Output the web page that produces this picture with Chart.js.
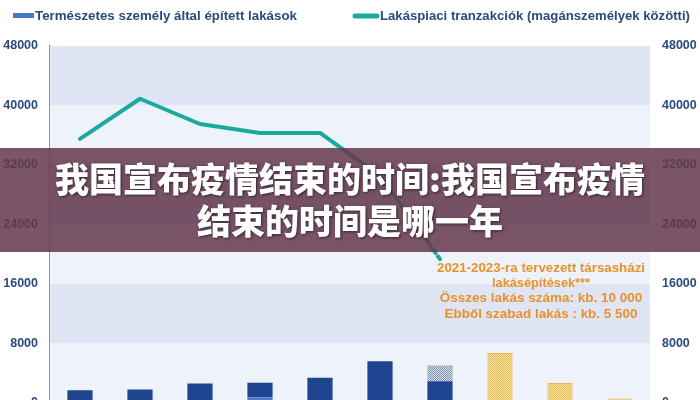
<!DOCTYPE html>
<html>
<head>
<meta charset="utf-8">
<script src="https://cdn.jsdelivr.net/npm/chart.js@4.4.1/dist/chart.umd.min.js"></script>
<style>
    html, body { margin: 0; padding: 0; background: #fff; overflow: hidden; }
    canvas { display: block; }
</style>
</head>
<body>
<!-- a bit taller than the window: the zero line sits just below the visible edge -->
<canvas id="lakasChart" width="700" height="422"></canvas>
<script>
// Years (category axis is hidden in the picture, bottom is cropped)
const years = ['2014', '2015', '2016', '2017', '2018', '2019', '2020', '2021', '2022', '2023'];

// Bars, stacked
const builtLight = [250, 250, 250, 700, 250, 300, 300, null, null, null];
const builtDark = [1400, 1500, 2300, 1950, 3070, 5250, 2570, null, null, null];
const builtHatched = [null, null, null, null, null, null, 2100, null, null, null];
const plannedCondo = [null, null, null, null, null, null, null, 6680, 2640, 540];

// Line: market transactions between private persons
const transactions = [35500, 40900, 37500, 36300, 36300, 30500, 19300, null, null, null];

const yTicks = [0, 8000, 16000, 24000, 32000, 40000, 48000];

const legendNames = [
    'Természetes személy által épített lakások',
    'Lakáspiaci tranzakciók (magánszemélyek közötti)'
];
const noteLines = [
    '2021-2023-ra tervezett társasházi',
    'lakásépítések***',
    'Összes lakás száma: kb. 10 000',
    'Ebből szabad lakás : kb. 5 500'
];
const bannerLines = [
    '我国宣布疫情结束的时间:我国宣布疫情',
    '结束的时间是哪一年'
];

const NAVY = '#1f4591';
const TEAL = '#1ba99b';
const LABEL = '#2d4a7c';

function dotPattern(bg, fg) {
    const c = document.createElement('canvas');
    c.width = 2; c.height = 2;
    const g = c.getContext('2d');
    g.fillStyle = bg;
    g.fillRect(0, 0, 2, 2);
    g.fillStyle = fg;
    g.fillRect(0, 0, 1, 1);
    g.fillRect(1, 1, 1, 1);
    return g.createPattern(c, 'repeat');
}

// alternating horizontal bands inside the plot area
const bandsPlugin = {
    id: 'bands',
    beforeDatasetsDraw(chart) {
        const { ctx, chartArea } = chart;
        const y = chart.scales.y;
        ctx.save();
        for (let i = 0; i < yTicks.length - 1; i++) {
            const top = y.getPixelForValue(yTicks[i + 1]);
            const bot = y.getPixelForValue(yTicks[i]);
            ctx.fillStyle = i % 2 === 0 ? '#eef2fb' : '#dfe5f4';
            ctx.fillRect(chartArea.left, top, chartArea.right - chartArea.left, bot - top);
        }
        ctx.restore();
    }
};

// legend + note + overlay banner
const extrasPlugin = {
    id: 'extras',
    afterDatasetsDraw(chart) {
        const { ctx } = chart;
        ctx.save();
        // legend
        ctx.font = 'bold 13.5px "Liberation Sans", Arial, sans-serif';
        ctx.textBaseline = 'middle';
        ctx.fillStyle = '#4a78c8';
        ctx.fillRect(13, 13, 21, 5);
        ctx.fillStyle = LABEL;
        ctx.fillText(legendNames[0], 35, 16, 262);
        ctx.strokeStyle = TEAL;
        ctx.lineWidth = 5;
        ctx.lineCap = 'round';
        ctx.beginPath();
        ctx.moveTo(355, 16);
        ctx.lineTo(377, 16);
        ctx.stroke();
        ctx.fillText(legendNames[1], 380, 16, 310);

        // note above the planned bars
        ctx.fillStyle = '#e8922a';
        ctx.font = 'bold 13.5px "Liberation Sans", Arial, sans-serif';
        ctx.textAlign = 'center';
        const widths = [208, 98, 203, 193];
        noteLines.forEach((t, i) => ctx.fillText(t, 541, 268 + i * 15.3, widths[i]));
        ctx.restore();
    },
    afterDraw(chart) {
        const { ctx, width } = chart;
        ctx.save();
        ctx.fillStyle = 'rgba(100, 55, 75, 0.85)';
        ctx.fillRect(0, 148, width, 104);
        ctx.font = '900 34px "Noto Sans CJK SC", sans-serif';
        ctx.textAlign = 'center';
        ctx.textBaseline = 'middle';
        ctx.shadowColor = 'rgba(0,0,0,0.55)';
        ctx.shadowBlur = 3;
        ctx.shadowOffsetX = 1;
        ctx.shadowOffsetY = 1;
        ctx.fillStyle = '#ffffff';
        ctx.fillText(bannerLines[0], 350, 179, 592);
        ctx.fillText(bannerLines[1], 350, 221);
        ctx.restore();
    }
};

const barCommon = {
    type: 'bar',
    stack: 'built',
    categoryPercentage: 1,
    barPercentage: 0.42,
    order: 1,
    yAxisID: 'y'
};

const tickFont = { family: '"Liberation Sans", Arial, sans-serif', size: 12.5, weight: 'bold' };

const ctx = document.getElementById('lakasChart').getContext('2d');
const lakasChart = new Chart(ctx, {
    type: 'bar',
    data: {
        labels: years,
        datasets: [
            {
                type: 'line',
                label: legendNames[1],
                data: transactions,
                borderColor: TEAL,
                borderWidth: 4,
                borderCapStyle: 'round',
                borderJoinStyle: 'round',
                pointRadius: 0,
                tension: 0,
                order: 0,
                yAxisID: 'y',
                segment: {
                    borderDash: c => c.p1DataIndex === 6 ? [5, 4] : undefined
                }
            },
            Object.assign({}, barCommon, {
                label: 'light',
                data: builtLight,
                backgroundColor: '#4d7cc9'
            }),
            Object.assign({}, barCommon, {
                label: legendNames[0],
                data: builtDark,
                backgroundColor: NAVY
            }),
            Object.assign({}, barCommon, {
                label: 'hatched',
                data: builtHatched,
                backgroundColor: dotPattern('#d6dfea', '#7f92ad'),
                borderColor: '#6f7f96',
                borderWidth: 1,
                borderSkipped: 'bottom'
            }),
            Object.assign({}, barCommon, {
                label: 'planned',
                data: plannedCondo,
                backgroundColor: dotPattern('#f7df93', '#e5c060'),
                borderColor: '#efb457',
                borderWidth: 1
            })
        ]
    },
    options: {
        responsive: false,
        animation: false,
        layout: {
            padding: { top: 46, bottom: 0, left: 0, right: 0 }
        },
        plugins: {
            legend: { display: false },
            tooltip: { enabled: false }
        },
        scales: {
            x: {
                display: false,
                stacked: true
            },
            y: {
                stacked: true,
                min: 0,
                max: 48000,
                position: 'left',
                afterFit: s => { s.width = 50; },
                afterBuildTicks: s => { s.ticks = yTicks.map(v => ({ value: v })); },
                ticks: {
                    color: LABEL,
                    padding: 12,
                    font: tickFont,
                    callback: v => String(v)
                },
                grid: { display: false, drawTicks: false },
                border: { display: true, color: '#8e9aab', width: 1.5 }
            },
            y2: {
                min: 0,
                max: 48000,
                position: 'right',
                afterFit: s => { s.width = 50; },
                afterBuildTicks: s => { s.ticks = yTicks.map(v => ({ value: v })); },
                ticks: {
                    color: LABEL,
                    padding: 12,
                    font: tickFont,
                    callback: v => String(v)
                },
                grid: { display: false, drawTicks: false },
                border: { display: false }
            }
        }
    },
    plugins: [bandsPlugin, extrasPlugin]
});
</script>
</body>
</html>
